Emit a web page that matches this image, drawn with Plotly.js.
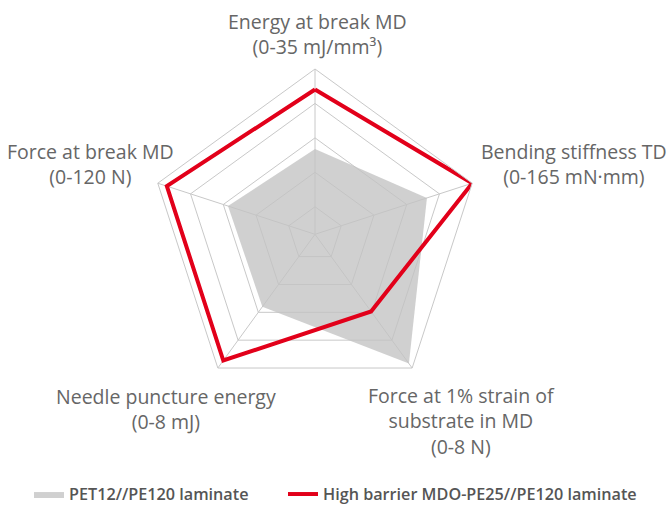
<!DOCTYPE html>
<html>
<head>
<meta charset="utf-8">
<script src="https://cdn.plot.ly/plotly-3.0.1.min.js"></script>
<style>html,body{margin:0;padding:0;background:#fff;overflow:hidden;}#chart{width:669px;height:512px;}</style>
</head>
<body>
<div id="chart"></div>
<script>
// Axis categories (clockwise from top) and their scale maxima
var categories = ["Energy at break MD", "Bending stiffness TD", "Force at 1% strain of substrate in MD", "Needle puncture energy", "Force at break MD"];
var axisMax = [35, 165, 8, 8, 120];
var axisLabels = [
  "Energy at break MD<br>(0-35 mJ/mm³)",
  "Bending stiffness TD<br>(0-165 mN·mm)",
  "Force at 1% strain of<br>substrate in MD<br>(0-8 N)",
  "Needle puncture energy<br>(0-8 mJ)",
  "Force at break MD<br>(0-120 N)"
];
// Series values in native units
var seriesNames = ["PET12//PE120 laminate", "High barrier MDO-PE25//PE120 laminate"];
var petValues = [14.7, 108, 7.68, 3.6, 55.7];
var mdoValues = [29.8, 165, 3.94, 7.46, 111.7];

function norm(vals) {
  var r = vals.map(function (v, i) { return v / axisMax[i]; });
  r.push(r[0]);
  return r;
}
var theta = categories.concat([categories[0]]);

var traces = [
  {
    type: "scatterpolar", name: seriesNames[0], legend: "legend",
    r: norm(petValues), theta: theta,
    mode: "lines", fill: "toself",
    fillcolor: "rgba(195,195,195,0.78)", line: {color: "#d0d0d0", width: 0},
    hoverinfo: "skip"
  },
  {
    type: "scatterpolar", name: seriesNames[1], legend: "legend2",
    r: norm(mdoValues), theta: theta,
    mode: "lines",
    line: {color: "#e2001a", width: 4},
    hoverinfo: "skip"
  }
];

var W = 669, H = 512, cx = 315, cy = 234.3, R = 165.3;
var labelPos = [
  {x: 317, y: 34},
  {x: 574, y: 164},
  {x: 461, y: 421},
  {x: 166, y: 409},
  {x: 90, y: 164}
];
var annotations = axisLabels.map(function (t, i) {
  return {
    xref: "paper", yref: "paper",
    x: labelPos[i].x / W, y: 1 - labelPos[i].y / H,
    xanchor: "center", yanchor: "middle",
    text: t, showarrow: false, align: "center",
    font: {family: "Open Sans, Noto Sans, sans-serif", size: 19.5, color: "#666666"}
  };
});

var legendFont = {family: "Open Sans, Noto Sans, sans-serif", size: 16.2, color: "#555555", weight: 600};

var layout = {
  width: W, height: H,
  margin: {l: 0, r: 0, t: 0, b: 0},
  paper_bgcolor: "#ffffff",
  showlegend: true,
  legend: {
    orientation: "h", x: 29 / W, xanchor: "left", y: 0, yanchor: "bottom",
    font: legendFont, itemwidth: 30
  },
  legend2: {
    orientation: "h", x: 283 / W, xanchor: "left", y: 0, yanchor: "bottom",
    font: legendFont, itemwidth: 30
  },
  polar: {
    domain: {x: [(cx - R) / W, (cx + R) / W], y: [(H - cy - R) / H, (H - cy + R) / H]},
    gridshape: "linear",
    bgcolor: "#ffffff",
    radialaxis: {
      range: [-0.2, 1], tickvals: [0, 0.25, 0.5, 0.75, 1],
      showticklabels: false, showline: false, ticks: "",
      gridcolor: "#c8c8c8", gridwidth: 1
    },
    angularaxis: {
      rotation: 90, direction: "clockwise",
      showticklabels: false, ticks: "",
      showline: true, linecolor: "#c8c8c8", linewidth: 1,
      gridcolor: "#c8c8c8", gridwidth: 1
    }
  },
  annotations: annotations
};

Plotly.newPlot("chart", traces, layout, {displayModeBar: false, staticPlot: true});
</script>
</body>
</html>
